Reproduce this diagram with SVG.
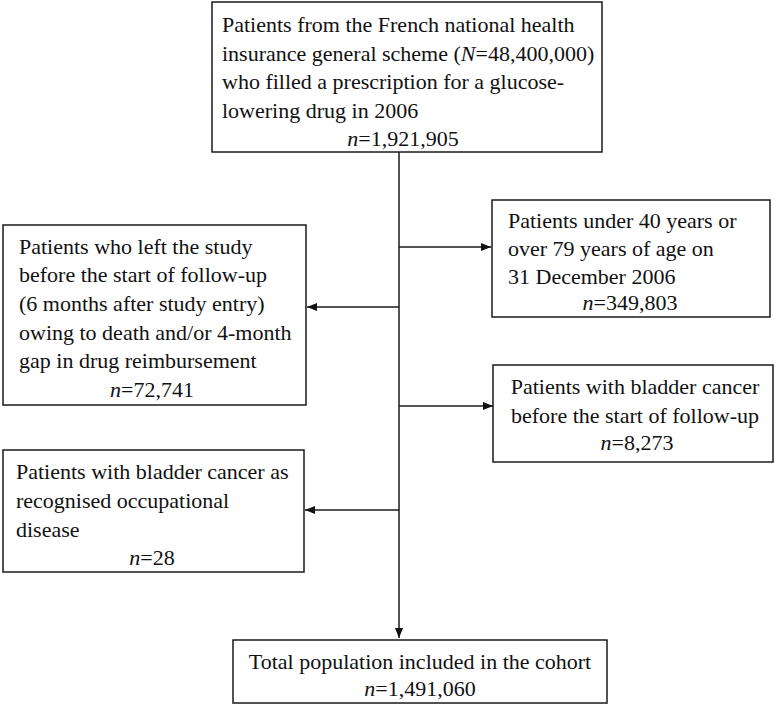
<svg xmlns="http://www.w3.org/2000/svg" width="776" height="704" viewBox="0 0 776 704">
<defs>
<style>
.box{fill:#fff;stroke:#1a1a1a;stroke-width:1.5}
.t{font-family:"Liberation Serif","Times New Roman",serif;font-size:22px;fill:#111}
.c{text-anchor:middle}
.i{font-style:italic}
.ln{stroke:#1a1a1a;stroke-width:1.5;fill:none}
</style>
<marker id="ah" viewBox="0 0 10 10" refX="10" refY="5" markerWidth="10" markerHeight="10" markerUnits="userSpaceOnUse" orient="auto">
<path d="M0,1 L10,5 L0,9 z" fill="#111"/>
</marker>
</defs>
<rect width="776" height="704" fill="#fff"/>
<g id="connectors">
<line class="ln" x1="399" y1="152" x2="399" y2="638" marker-end="url(#ah)"/>
<line class="ln" x1="399" y1="247" x2="491" y2="247" marker-end="url(#ah)"/>
<line class="ln" x1="399" y1="307" x2="307" y2="307" marker-end="url(#ah)"/>
<line class="ln" x1="399" y1="406" x2="493" y2="406" marker-end="url(#ah)"/>
<line class="ln" x1="399" y1="510" x2="305" y2="510" marker-end="url(#ah)"/>
</g>
<g font-family="'Liberation Serif', 'Times New Roman', serif">
<g id="n-top">
<rect class="box" x="212" y="2" width="390" height="150"/>
<text class="t" x="222" y="32">Patients from the French national health</text>
<text class="t" x="222" y="61">insurance general scheme (<tspan class="i">N</tspan>=48,400,000)</text>
<text class="t" x="222" y="89">who filled a prescription for a glucose-</text>
<text class="t" x="222" y="118">lowering drug in 2006</text>
<text class="t c" x="403" y="146"><tspan class="i">n</tspan>=1,921,905</text>
</g>
<g id="n-age">
<rect class="box" x="492" y="200" width="278" height="117"/>
<text class="t" x="508" y="228">Patients under 40 years or</text>
<text class="t" x="508" y="256">over 79 years of age on</text>
<text class="t" x="508" y="284">31 December 2006</text>
<text class="t c" x="630" y="310"><tspan class="i">n</tspan>=349,803</text>
</g>
<g id="n-left">
<rect class="box" x="3" y="225" width="303" height="180"/>
<text class="t" x="19" y="254">Patients who left the study</text>
<text class="t" x="19" y="282">before the start of follow-up</text>
<text class="t" x="19" y="311">(6 months after study entry)</text>
<text class="t" x="19" y="340">owing to death and/or 4-month</text>
<text class="t" x="19" y="368">gap in drug reimbursement</text>
<text class="t c" x="152" y="397"><tspan class="i">n</tspan>=72,741</text>
</g>
<g id="n-bladder">
<rect class="box" x="493" y="365" width="280" height="97"/>
<text class="t c" x="635" y="394">Patients with bladder cancer</text>
<text class="t c" x="635" y="423">before the start of follow-up</text>
<text class="t c" x="637" y="450"><tspan class="i">n</tspan>=8,273</text>
</g>
<g id="n-occup">
<rect class="box" x="3" y="450" width="301" height="122"/>
<text class="t" x="16" y="479">Patients with bladder cancer as</text>
<text class="t" x="16" y="508">recognised occupational</text>
<text class="t" x="16" y="537">disease</text>
<text class="t c" x="152" y="565"><tspan class="i">n</tspan>=28</text>
</g>
<g id="n-total">
<rect class="box" x="233" y="640" width="374" height="63"/>
<text class="t c" x="420" y="669">Total population included in the cohort</text>
<text class="t c" x="420" y="696"><tspan class="i">n</tspan>=1,491,060</text>
</g>
</g>
</svg>
